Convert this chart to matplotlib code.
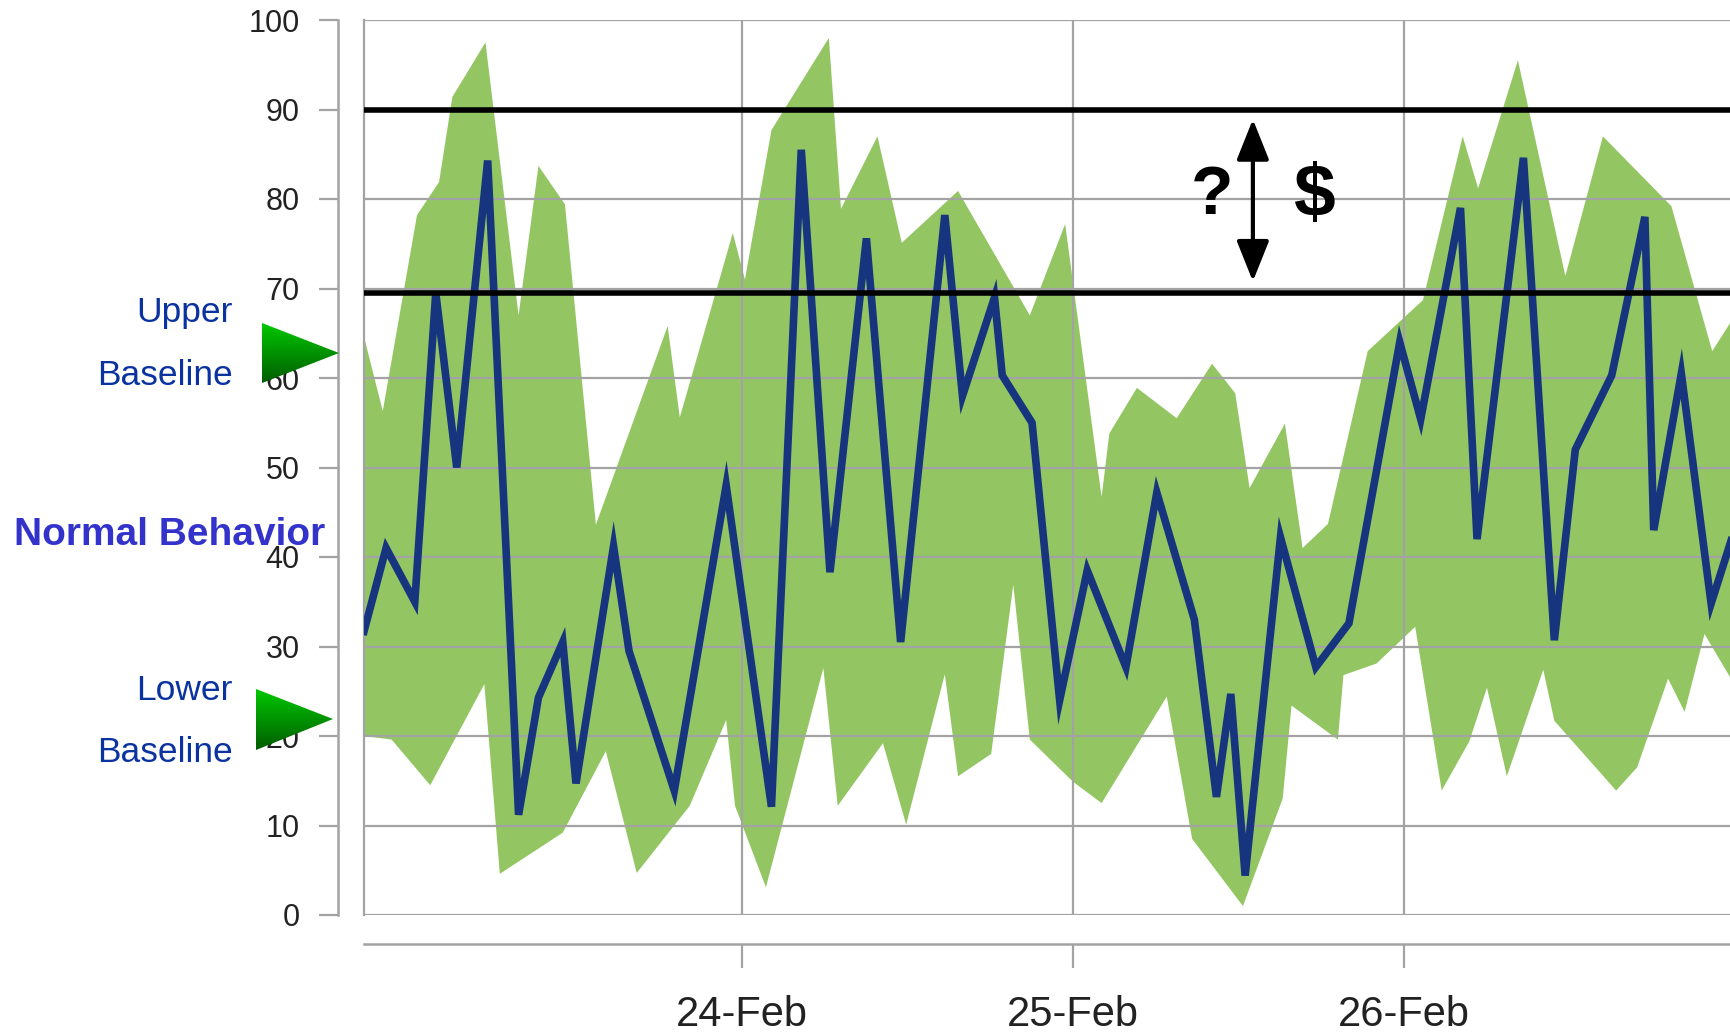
import numpy as np
import matplotlib
matplotlib.use('Agg')
from matplotlib import pyplot as plt
from matplotlib import font_manager
from matplotlib.patches import Polygon
from matplotlib.colors import LinearSegmentedColormap

# hours counted from 23-Feb 00:00
line_hours = [-3.36, -1.76, 0.32, 1.84, 3.36, 5.6, 7.84, 9.28, 11.04, 12.0, 14.72, 15.84,
              19.12, 22.88, 26.16, 28.32, 30.4, 33.04, 35.52, 38.72, 40.0, 42.32, 42.88,
              45.04, 47.04, 49.04, 51.84, 54.08, 56.8, 58.4, 59.44, 60.48, 63.04, 65.6,
              68.0, 71.68, 73.2, 76.08, 77.28, 80.64, 82.88, 84.4, 87.04, 89.44, 90.08,
              92.08, 94.24, 95.68]
line_vals = [31.7, 41, 35, 69.5, 50, 84.3, 11.2, 24.3, 30.5, 14.7, 41.2, 29.5,
             13.9, 48, 12.1, 85.5, 38.3, 75.6, 30.5, 78.2, 58, 69, 60.3,
             55, 24, 38.5, 27.7, 47.2, 33, 13.2, 24.7, 4.4, 42.2, 27.7,
             32.6, 64, 55.4, 79, 42, 84.6, 30.7, 52, 60.3, 78, 43,
             60.5, 34.8, 41.8]

upper_hours = [-3.36, -2.0, 0.48, 2.08, 3.04, 5.44, 7.84, 9.28, 11.2, 13.44,
               18.64, 19.52, 23.36, 24.24, 26.16, 30.32, 31.2, 33.84, 35.6, 39.68,
               44.88, 47.44, 50.08, 50.64, 52.64, 55.52, 58.08, 59.76, 60.8, 63.36,
               64.64, 66.48, 69.36, 73.36, 76.24, 77.36, 80.24, 83.68, 86.4, 91.36,
               94.32, 95.68]
upper_vals = [64.6, 56.3, 78.2, 81.9, 91.4, 97.5, 67, 83.7, 79.4, 43.6,
              65.8, 55.6, 76.2, 71, 87.7, 98, 78.9, 87, 75.1, 80.9,
              67, 77.2, 46.7, 53.8, 58.9, 55.5, 61.6, 58.3, 47.7, 54.9,
              41, 43.7, 63, 68.7, 87, 81.2, 95.5, 71.4, 87, 79.2,
              63, 66.3]

lower_hours = [-3.36, -1.36, 1.44, 5.36, 6.48, 11.04, 14.16, 16.4, 20.24, 22.88,
               23.52, 25.76, 29.92, 30.96, 34.24, 35.92, 38.72, 39.68, 42.08, 43.68,
               44.88, 48.0, 50.08, 54.8, 56.64, 60.32, 63.2, 63.84, 67.2, 67.6,
               70.0, 72.8, 74.72, 76.72, 78.0, 79.44, 82.08, 82.88, 87.36, 88.88,
               91.12, 92.32, 93.76, 95.68]
lower_vals = [20, 19.6, 14.5, 25.8, 4.6, 9.2, 18.3, 4.7, 12.2, 21.8,
              12.2, 3.1, 27.6, 12.2, 19.2, 10.1, 26.9, 15.5, 18, 36.9,
              19.6, 14.9, 12.5, 24.4, 8.5, 1.0, 13, 23.4, 19.6, 26.8,
              28.1, 32.2, 13.9, 19.4, 25.4, 15.5, 27.4, 21.7, 13.9, 16.5,
              26.4, 22.7, 31.4, 26.4]

day_ticks = [24, 48, 72]
day_labels = ['24-Feb', '25-Feb', '26-Feb']
y_ticks = list(range(0, 101, 10))
threshold_high = 90
threshold_low = 69.5
arrow_hour = 61.04

W, H = 1731, 1035
GRID = '#a3a3a3'

names = {f.name for f in font_manager.fontManager.ttflist}
has_narrow = 'Liberation Sans Narrow' in names
narrow = 'Liberation Sans Narrow' if has_narrow else 'Liberation Sans'

fig = plt.figure(figsize=(W / 100, H / 100), dpi=100)
ax = fig.add_axes([364 / W, 1 - 915 / H, 1 - 364 / W, (915 - 20) / H])

# band of normal behaviour
band_x = np.concatenate([upper_hours, lower_hours[::-1]])
band_y = np.concatenate([upper_vals, lower_vals[::-1]])
ax.fill(band_x, band_y, color='#93c663', lw=0, zorder=1)

ax.plot(line_hours, line_vals, color='#17357f', lw=5.5, solid_joinstyle='miter', zorder=2)

ax.axhline(threshold_high, color='black', lw=4, zorder=3)
ax.axhline(threshold_low, color='black', lw=4, zorder=3)

ax.annotate('', xy=(arrow_hour, 88.9), xytext=(arrow_hour, 70.8),
            arrowprops=dict(arrowstyle='<|-|>,head_length=1.25,head_width=0.5',
                            lw=3, color='black', shrinkA=0, shrinkB=0,
                            mutation_scale=20), zorder=4)
qs_size = 60 if has_narrow else 50
ax.text(58.08, 80.3, '?', ha='center', va='center', fontsize=qs_size,
        fontweight='bold', family=narrow, zorder=4)
ax.text(65.44, 80.3, '$', ha='center', va='center', fontsize=qs_size + 4,
        fontweight='bold', family=narrow, zorder=4)

ax.set_xlim(-3.36, 95.68)
ax.set_ylim(0, 100)
ax.set_yticks(y_ticks)
ax.set_xticks(day_ticks, day_labels)

ax.set_axisbelow('line')
ax.grid(True, color=GRID, lw=1.6)
for s in ['top', 'right']:
    ax.spines[s].set_visible(False)
ax.spines['left'].set_position(('outward', 18.7))
ax.spines['bottom'].set_position(('outward', 20.9))
for s in ['left', 'bottom']:
    ax.spines[s].set_color(GRID)
    ax.spines[s].set_linewidth(1.8)
ax.tick_params(axis='y', length=13.7, width=1.6, color=GRID, pad=14,
               labelsize=22, labelcolor='#222222', labelfontfamily='Liberation Sans')
ax.tick_params(axis='x', length=17, width=1.6, color=GRID, pad=20,
               labelsize=34 if has_narrow else 30, labelcolor='#222222',
               labelfontfamily=narrow)
# left frame of plot area
ax.plot([0, 0], [0, 1], transform=ax.transAxes, color=GRID, lw=1.6, clip_on=False, zorder=1.5)

# overlay in figure pixels for the labels on the left
ov = fig.add_axes([0, 0, 1, 1])
ov.axis('off')
grad = np.linspace(0, 1, 100).reshape(-1, 1)
cmap = LinearSegmentedColormap.from_list('tri', ['#00c800', '#005c00'])
for tri in ([(262, 323), (262, 383), (339, 353)], [(256, 689), (256, 750), (333, 719)]):
    poly = Polygon(tri, closed=True, facecolor='none', edgecolor='none')
    ov.add_patch(poly)
    xs = [p[0] for p in tri]
    ys = [p[1] for p in tri]
    im = ov.imshow(grad, cmap=cmap, aspect='auto',
                   extent=(min(xs), max(xs), max(ys), min(ys)))
    im.set_clip_path(poly)
ov.set_xlim(0, W)
ov.set_ylim(H, 0)

blue = '#0a33a0'
ov.text(233, 322, 'Upper', ha='right', va='baseline', fontsize=25.5, color=blue, family='Liberation Sans')
ov.text(233, 385, 'Baseline', ha='right', va='baseline', fontsize=25.5, color=blue, family='Liberation Sans')
ov.text(233, 700, 'Lower', ha='right', va='baseline', fontsize=25.5, color=blue, family='Liberation Sans')
ov.text(233, 762, 'Baseline', ha='right', va='baseline', fontsize=25.5, color=blue, family='Liberation Sans')
ov.text(14, 545, 'Normal Behavior', ha='left', va='baseline', fontsize=28, fontweight='bold',
        color='#3333cc', family='Liberation Sans')

fig.savefig('out.png', dpi=100)
